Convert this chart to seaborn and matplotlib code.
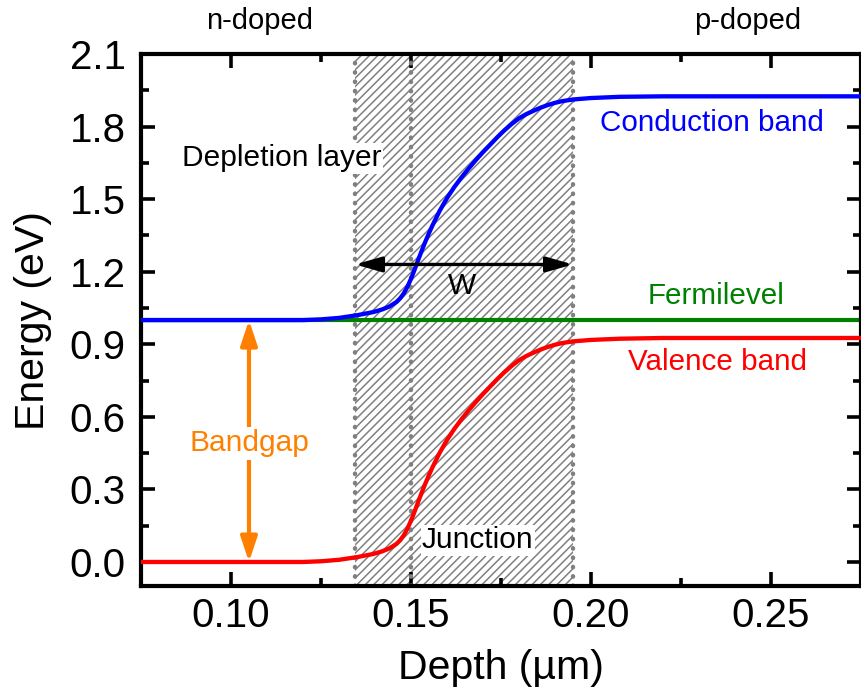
import matplotlib
matplotlib.use("Agg")
import matplotlib.pyplot as plt
from matplotlib.ticker import MultipleLocator, FormatStrFormatter
import pandas as pd
import seaborn as sns

# Band edges across the p-n junction (depth in µm, energy in eV)
depth = [0.075, 0.120, 0.125, 0.130, 0.135, 0.1395, 0.142, 0.144, 0.146, 0.147,
         0.148, 0.149, 0.150, 0.151, 0.152, 0.153, 0.154, 0.155, 0.156, 0.158,
         0.160, 0.162, 0.164, 0.166, 0.168, 0.170, 0.172, 0.174, 0.176, 0.178,
         0.180, 0.182, 0.184, 0.186, 0.188, 0.190, 0.192, 0.195, 0.200, 0.208,
         0.220, 0.275]
conduction = [1.000, 1.000, 1.003, 1.009, 1.020, 1.033, 1.044, 1.056, 1.075, 1.090,
              1.110, 1.137, 1.170, 1.208, 1.248, 1.287, 1.324, 1.359, 1.392, 1.452,
              1.504, 1.549, 1.589, 1.626, 1.661, 1.694, 1.725, 1.756, 1.785, 1.811,
              1.834, 1.851, 1.865, 1.878, 1.889, 1.898, 1.905, 1.912, 1.918, 1.923,
              1.925, 1.925]
valence = [0.000, 0.000, 0.003, 0.009, 0.020, 0.033, 0.044, 0.056, 0.075, 0.090,
           0.110, 0.137, 0.170, 0.208, 0.248, 0.287, 0.324, 0.359, 0.392, 0.452,
           0.504, 0.549, 0.589, 0.626, 0.661, 0.694, 0.725, 0.756, 0.785, 0.811,
           0.834, 0.851, 0.865, 0.878, 0.889, 0.898, 0.905, 0.912, 0.918, 0.923,
           0.926, 0.926]
fermi_level = 1.0

depletion_start = 0.1345
depletion_end = 0.195
junction = 0.150
bandgap_x = 0.105
bandgap_bottom = 0.0
bandgap_top = 1.0
width_y = 1.23

x_ticks = [0.10, 0.15, 0.20, 0.25]
y_ticks = [0.0, 0.3, 0.6, 0.9, 1.2, 1.5, 1.8, 2.1]

BLUE, RED, GREEN, ORANGE = "#0000ff", "#ff0000", "#008000", "#ff8000"

sns.set_theme(style="ticks")
plt.rcParams["font.family"] = ["Liberation Sans", "DejaVu Sans"]
plt.rcParams["text.color"] = "black"
plt.rcParams["axes.labelcolor"] = "black"
plt.rcParams["hatch.linewidth"] = 1.1
plt.rcParams["hatch.color"] = "#808080"

fig = plt.figure(figsize=(8.62, 6.88), dpi=100)
ax = fig.add_axes([0.1636, 0.148, 0.835, 0.7735])

# depletion layer
ax.axvspan(depletion_start, depletion_end, facecolor="white", edgecolor="#808080",
           hatch="////", linewidth=0, zorder=0)
for xv in (depletion_start, junction, depletion_end):
    ax.axvline(xv, color="#808080", lw=3.2, ls=(0, (0.1, 2.0)),
               dash_capstyle="round", zorder=1)

ax.axhline(fermi_level, color=GREEN, lw=3, zorder=2)

bands = pd.DataFrame({
    "depth": depth * 2,
    "energy": conduction + valence,
    "band": ["Conduction band"] * len(depth) + ["Valence band"] * len(depth),
})
sns.lineplot(data=bands, x="depth", y="energy", hue="band", sort=False,
             errorbar=None, estimator=None,
             palette={"Conduction band": BLUE, "Valence band": RED},
             lw=3.1, legend=False, ax=ax, zorder=3)
for line in ax.get_lines():
    line.set_solid_joinstyle("round")

# bandgap arrow
ax.annotate("", xy=(bandgap_x, bandgap_top), xytext=(bandgap_x, bandgap_bottom),
            arrowprops=dict(arrowstyle="<|-|>,head_length=0.75,head_width=0.25",
                            color=ORANGE, lw=3, mutation_scale=20,
                            shrinkA=0, shrinkB=0), zorder=4)
ax.text(bandgap_x, 0.49, "Bandgap", color=ORANGE, fontsize=21.5,
        ha="center", va="center", zorder=5,
        bbox=dict(facecolor="white", edgecolor="none", pad=2))

# depletion width arrow
ax.annotate("", xy=(depletion_end, width_y), xytext=(depletion_start, width_y),
            arrowprops=dict(arrowstyle="<|-|>,head_length=0.8,head_width=0.23",
                            color="black", lw=2.4, mutation_scale=20,
                            shrinkA=0, shrinkB=0), zorder=4)
ax.text(0.1641, 1.14, "W", fontsize=21.5, ha="center", va="center", zorder=5)

ax.text(0.1141, 1.67, "Depletion layer", fontsize=21.5, ha="center", va="center",
        zorder=5, bbox=dict(facecolor="white", edgecolor="none", pad=1))
ax.text(0.1686, 0.09, "Junction", fontsize=21.5, ha="center", va="center",
        zorder=5, bbox=dict(facecolor="white", edgecolor="none", pad=1))
ax.text(0.2335, 1.815, "Conduction band", color=BLUE, fontsize=21.3,
        ha="center", va="center")
ax.text(0.2347, 1.10, "Fermilevel", color=GREEN, fontsize=21.3,
        ha="center", va="center")
ax.text(0.2353, 0.828, "Valence band", color=RED, fontsize=21.3,
        ha="center", va="center")

fig.text(0.3016, 0.969, "n-doped", fontsize=21, ha="center", va="center")
fig.text(0.8677, 0.969, "p-doped", fontsize=21, ha="center", va="center")

ax.set_xlim(0.075, 0.275)
ax.set_ylim(-0.1, 2.1)
ax.set_xticks(x_ticks)
ax.set_yticks(y_ticks)
ax.xaxis.set_minor_locator(MultipleLocator(0.025))
ax.yaxis.set_minor_locator(MultipleLocator(0.15))
ax.xaxis.set_major_formatter(FormatStrFormatter("%.2f"))
ax.yaxis.set_major_formatter(FormatStrFormatter("%.1f"))
ax.tick_params(which="both", direction="in", top=True, right=True,
               width=2.6, labelsize=29, pad=8, color="black", labelcolor="black")
ax.tick_params(axis="y", which="both", pad=11)
ax.tick_params(which="major", length=10)
ax.tick_params(which="minor", length=6)
for s in ax.spines.values():
    s.set_linewidth(3)
    s.set_color("black")

ax.set_xlabel("Depth (µm)", fontsize=29.5, labelpad=10)
ax.set_ylabel("Energy (eV)", fontsize=29.5, labelpad=13)

fig.savefig("out.png", dpi=100)
